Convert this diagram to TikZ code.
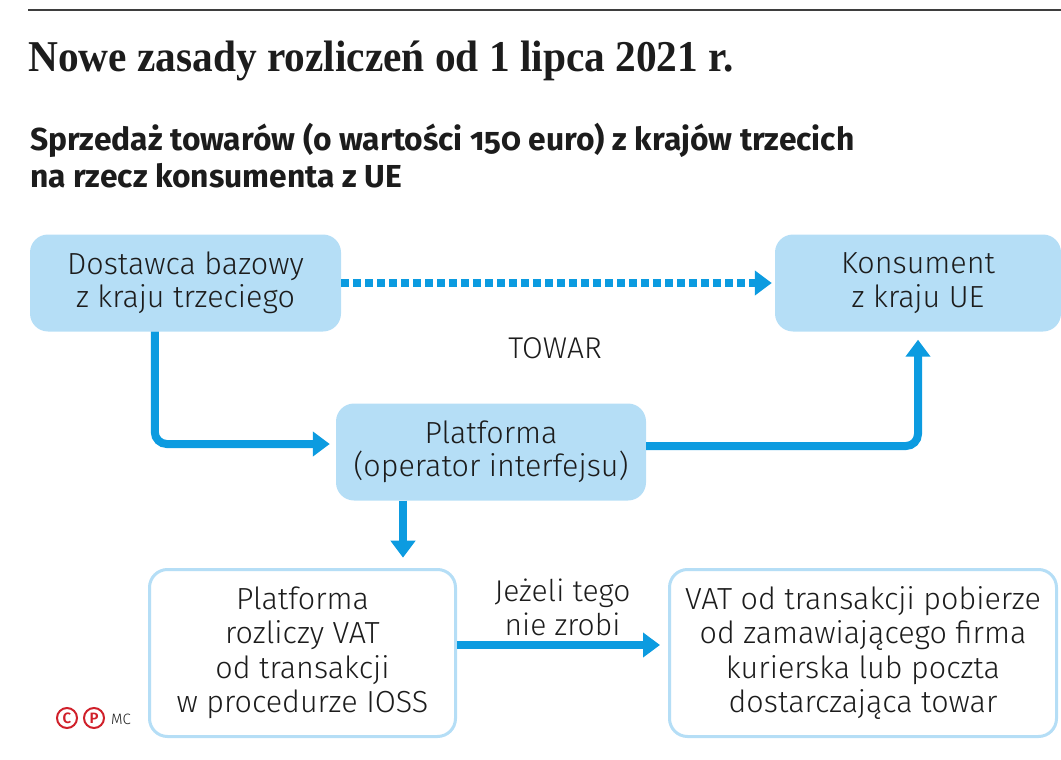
\documentclass[tikz,border=0pt]{standalone}
\usepackage{fontspec}
\setmainfont{Fira Sans}[UprightFont=* Light, BoldFont=* SemiBold]
\newfontfamily\titlefont{Liberation Serif}
\newfontfamily\headfont{Fira Sans}[UprightFont=* Bold, Numbers=OldStyle]
\usetikzlibrary{arrows.meta}
\definecolor{boxblue}{HTML}{B5DEF6}
\definecolor{flowblue}{HTML}{0C9BE0}
\definecolor{inkgray}{HTML}{1C1C1C}
\definecolor{logored}{HTML}{D0202A}
\tikzset{
  box/.style={rectangle, rounded corners=18pt, fill=boxblue, align=center, text=inkgray, font=\fontsize{30.5}{33.5}\selectfont},
  outbox/.style={rectangle, rounded corners=18pt, draw=boxblue, line width=3pt, fill=white, align=center, text=inkgray, font=\fontsize{30.5}{34.5}\selectfont},
  flow/.style={draw=flowblue, line width=8pt, rounded corners=12pt, -{Triangle[length=17pt,width=24pt]}},
  dotflow/.style={flow, dash pattern=on 8pt off 4pt},
  lbl/.style={align=center, text=inkgray, font=\fontsize{30}{33.5}\selectfont},
  logomark/.style={circle, draw=logored, line width=2pt, minimum size=20pt, inner sep=0pt, text=logored, font=\bfseries\fontsize{15}{15}\selectfont}
}
\begin{document}
\begin{tikzpicture}[x=1pt, y=-1pt]
  \useasboundingbox (0,0) rectangle (1061,760);
  \coordinate (ruleL) at (28,10);
  \coordinate (ruleR) at (1061,10);
  \draw[line width=1.8pt, inkgray!85] (ruleL) -- (ruleR);

  % titles
  \node[anchor=base west, inner sep=0pt, text=inkgray] (title) at (28,72) {\titlefont\bfseries\fontsize{44}{44}\selectfont\scalebox{0.94}[1]{Nowe zasady rozliczeń od 1 lipca 2021 r.}};
  \node[anchor=base west, inner sep=0pt, text=inkgray, align=left, font=\headfont\fontsize{31.8}{37}\selectfont] (sub) at (30,187) {Sprzedaż towarów (o wartości 150 euro) z krajów trzecich\\na rzecz konsumenta z UE};

  % boxes
  \node[box, minimum width=311pt, minimum height=97pt] (dostawca) at (185.5,283) {Dostawca bazowy\\z kraju trzeciego};
  \node[box, minimum width=286pt, minimum height=97pt] (konsument) at (918,283) {Konsument\\z kraju UE};
  \node[box, minimum width=310pt, minimum height=97pt] (platforma) at (491,452) {Platforma\\(operator interfejsu)};
  \node[outbox, minimum width=306pt, minimum height=167pt] (ioss) at (302.5,653) {Platforma\\rozliczy VAT\\od transakcji\\w procedurze IOSS};
  \node[outbox, minimum width=387pt, minimum height=167pt] (kurier) at (863,653) {VAT od transakcji pobierze\\od zamawiającego firma\\kurierska lub poczta\\dostarczająca towar};
  \node[lbl] (towar) at (555,348) {TOWAR};

  % arrows
  \draw[dotflow, rounded corners=0pt, shorten >=3pt] (dostawca.east) -- (konsument.west);
  \draw[flow, shorten >=6pt] ([xshift=125pt]dostawca.south west) |- ([yshift=8pt]platforma.west);
  \draw[flow, shorten >=8pt] ([yshift=6pt]platforma.east) -| (konsument.south);
  \draw[flow, rounded corners=0pt, shorten >=10pt] ([xshift=-88pt]platforma.south) -- ([xshift=-88pt, yshift=-67pt]platforma.south);
  \draw[flow, rounded corners=0pt, shorten >=8pt] ([yshift=8pt]ioss.east) -- node[lbl, above=2pt] {Jeżeli tego\\nie zrobi} ([yshift=8pt]kurier.west);

  % logo
  \node[logomark] (copy) at (67,718) {C};
  \node[logomark] (phono) at (94,718) {P};
  \node[anchor=west, inner sep=0pt, text=inkgray, font=\fontsize{15}{15}\selectfont] (mc) at (111,719) {MC};
\end{tikzpicture}
\end{document}
